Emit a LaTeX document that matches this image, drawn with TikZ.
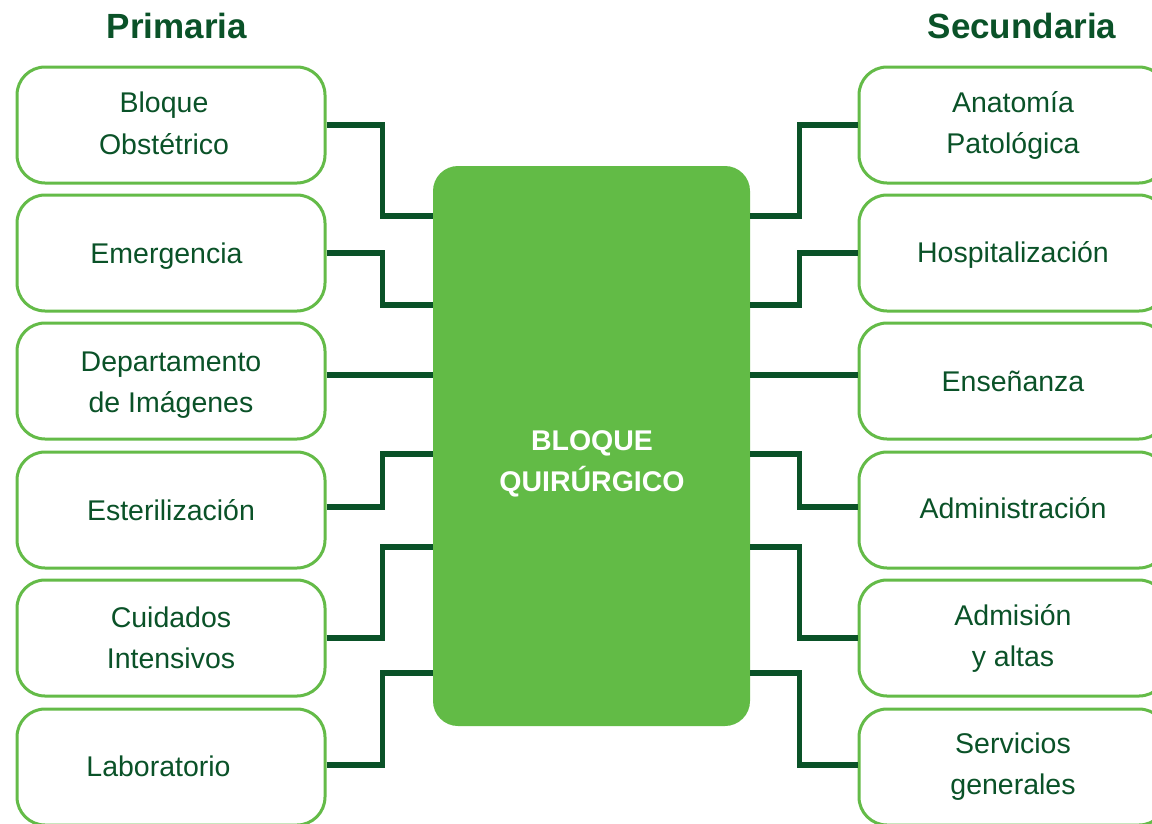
\documentclass[tikz,border=0pt]{standalone}
\usepackage{fontspec}
\setmainfont{Liberation Sans}
\definecolor{lg}{HTML}{64BB48}
\definecolor{cg}{HTML}{62BB46}
\definecolor{dg}{HTML}{0A5228}
\newcommand{\shiftdown}[2]{\raisebox{-#1}[\height][\depth]{#2}}
\begin{document}
\begin{tikzpicture}[x=1pt,y=-1pt,
  box/.style={draw=lg, line width=3pt, rounded corners=28pt, minimum width=308pt,
    minimum height=116pt, text=dg, font=\fontsize{28.5}{41}\selectfont, align=center, inner sep=0pt},
  conn/.style={draw=dg, line width=5.5pt},
  ttl/.style={text=dg, font=\bfseries\fontsize{35}{40}\selectfont, anchor=base, inner sep=0pt}]
\useasboundingbox (0,0) rectangle (1152,823);
\clip (0,0) rectangle (1152,823);
\fill[white] (0,0) rectangle (1152,823);

\node[ttl] (TP) at (177,38) {Primaria};
\node[ttl] (TS) at (1022,38) {Secundaria};

% left column
\node[box] (L1) at (171,125) {\hspace*{-14pt}\shiftdown{-2pt}{Bloque}\\\hspace*{-14pt}\shiftdown{-1pt}{Obstétrico}};
\node[box] (L2) at (171,253) {\hspace*{-9pt}\shiftdown{3pt}{Emergencia}};
\node[box] (L3) at (171,381) {\shiftdown{4pt}{Departamento}\\\shiftdown{4pt}{de Imágenes}};
\node[box] (L4) at (171,510) {Esterilización};
\node[box] (L5) at (171,638) {Cuidados\\Intensivos};
\node[box] (L6) at (171,767) {\hspace*{-25pt}\shiftdown{-1pt}{Laboratorio}};

% right column
\node[box] (R1) at (1013,125) {Anatomía\\Patológica};
\node[box] (R2) at (1013,253) {\shiftdown{2pt}{Hospitalización}};
\node[box] (R3) at (1013,381) {Enseñanza};
\node[box] (R4) at (1013,510) {\shiftdown{-2pt}{Administración}};
\node[box] (R5) at (1013,638) {Admisión\\y altas};
\node[box] (R6) at (1013,767) {Servicios\\generales};

% central block
\node[fill=cg, rounded corners=25pt, minimum width=317pt, minimum height=560pt, inner sep=0pt] (C) at (591.5,446) {};
\node[text=white, font=\bfseries\fontsize{28.5}{41}\selectfont, align=center, inner sep=0pt, anchor=base] (CT) at (592,491) {BLOQUE\\QUIRÚRGICO};

% left connectors
\draw[conn] (L1.east) -- ++(56,0) |- (C.west |- 0,216);
\draw[conn] (L2.east) -- ++(56,0) |- (C.west |- 0,305);
\draw[conn] (L3.east |- 0,375) -- (C.west |- 0,375);
\draw[conn] (L4.east |- 0,507) -- ++(56,0) |- (C.west |- 0,454);
\draw[conn] (L5.east) -- ++(56,0) |- (C.west |- 0,547);
\draw[conn] (L6.east |- 0,765) -- ++(56,0) |- (C.west |- 0,673);

% right connectors
\draw[conn] (R1.west) -- ++(-58,0) |- (C.east |- 0,216);
\draw[conn] (R2.west) -- ++(-58,0) |- (C.east |- 0,305);
\draw[conn] (R3.west |- 0,375) -- (C.east |- 0,375);
\draw[conn] (R4.west |- 0,507) -- ++(-58,0) |- (C.east |- 0,454);
\draw[conn] (R5.west) -- ++(-58,0) |- (C.east |- 0,547);
\draw[conn] (R6.west |- 0,765) -- ++(-58,0) |- (C.east |- 0,673);
\end{tikzpicture}
\end{document}
